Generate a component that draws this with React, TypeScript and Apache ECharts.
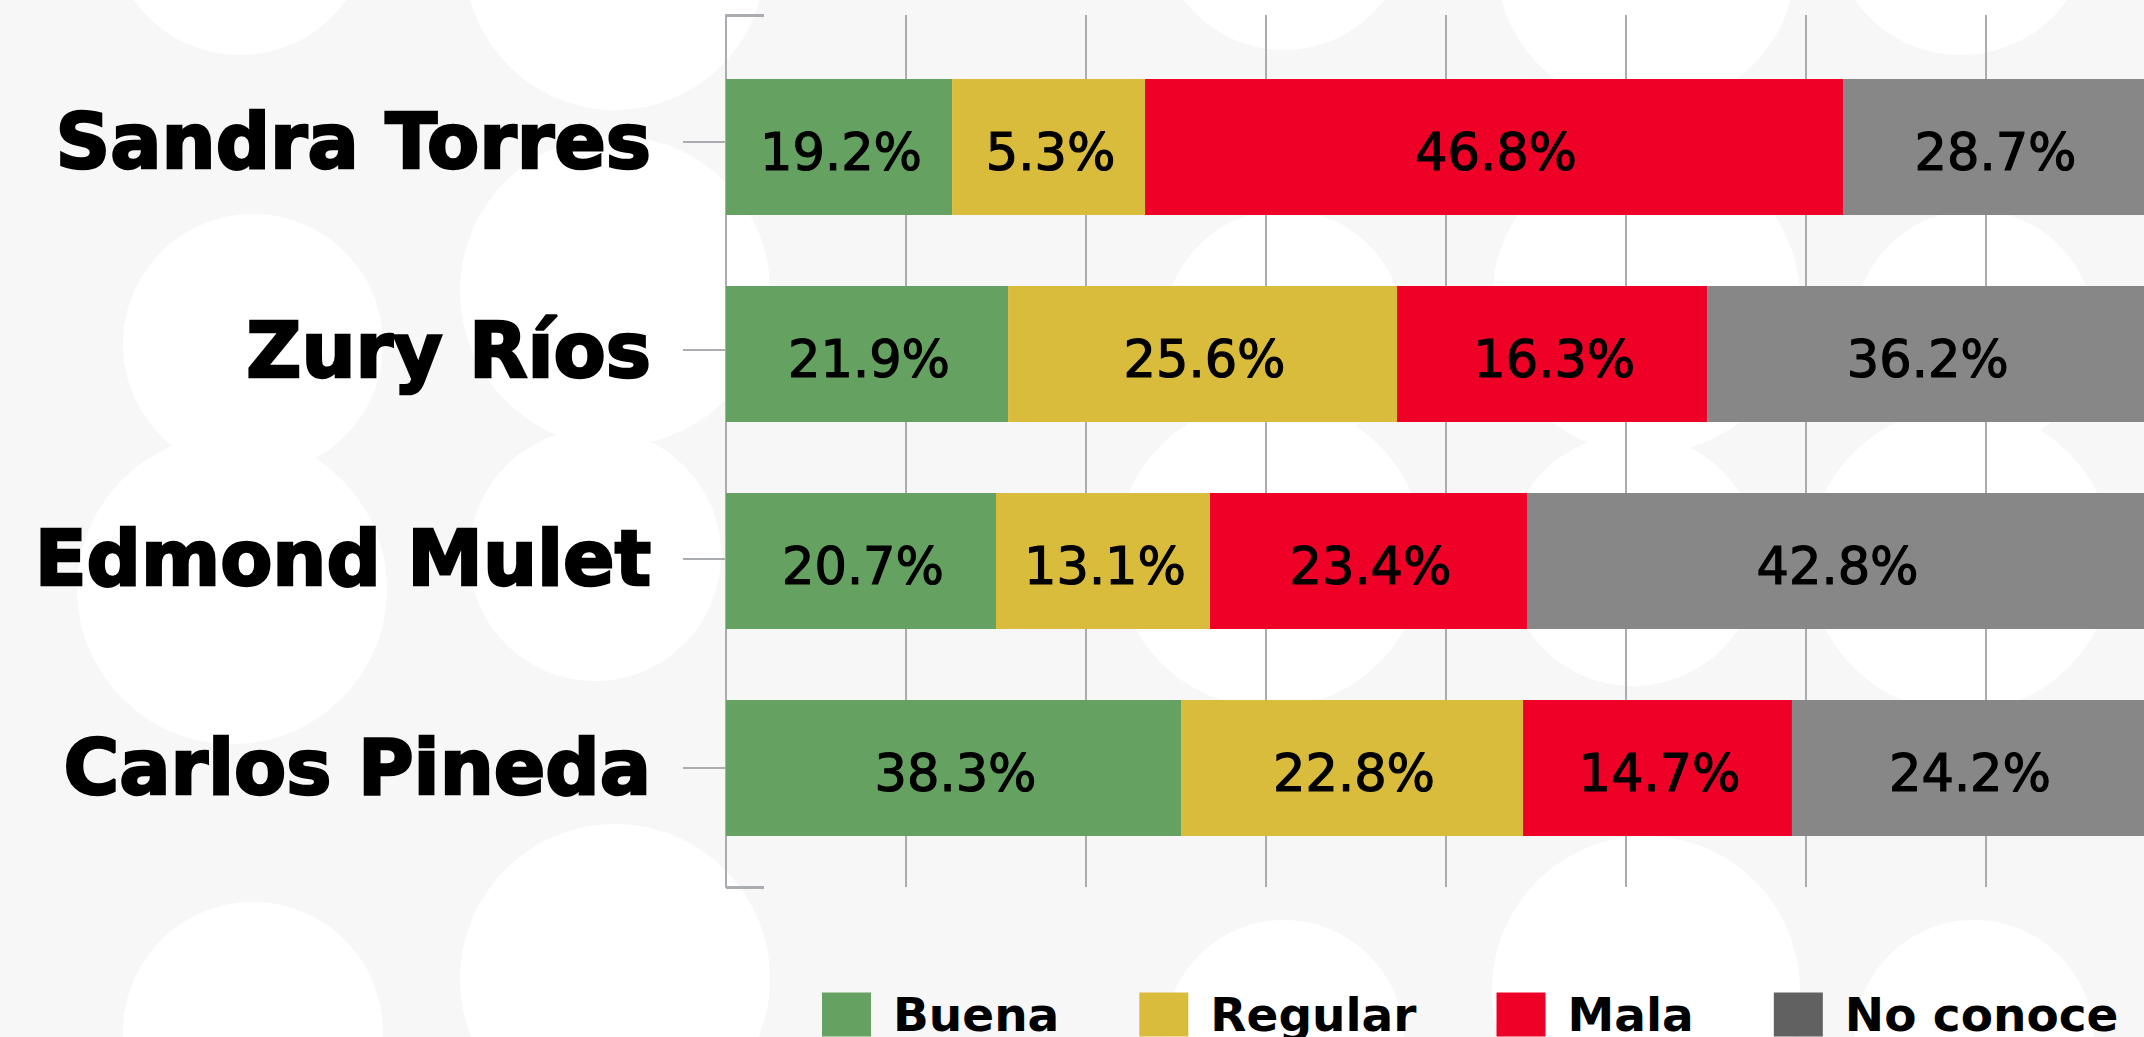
import React, { useEffect, useRef } from "react";
import * as echarts from "echarts";

// ---- data ----
const candidates = ["Sandra Torres", "Zury Ríos", "Edmond Mulet", "Carlos Pineda"];
const seriesNames = ["Buena", "Regular", "Mala", "No conoce"];
// bar lengths as drawn, in axis units (one grid step = 10)
const buenaLen = [12.56, 15.67, 15.0, 25.28];
const regularLen = [10.72, 21.61, 11.89, 19.0];
const malaLen = [38.78, 17.25, 17.61, 14.94];
const noConoceLen = [16.72, 24.25, 34.28, 19.56];
// printed percentages
const buenaPct = [19.2, 21.9, 20.7, 38.3];
const regularPct = [5.3, 25.6, 13.1, 22.8];
const malaPct = [46.8, 16.3, 23.4, 14.7];
const noConocePct = [28.7, 36.2, 42.8, 24.2];
const axisMin = 0;
const axisMax = 80;
const axisStep = 10;

const barColors = ["#65a161", "#d9bc3c", "#ee0027", "#878787"];
const legendColors = ["#65a161", "#d9bc3c", "#ee0027", "#616161"];

// decorative background circles [cx, cy, r]
const bgCircles = [
  [240, -75, 130], [615, -40, 150], [1284, -75, 125], [1646, -40, 150], [1961, -75, 130],
  [253, 344, 130], [615, 291, 155], [1284, 330, 120], [1646, 300, 154], [1974, 330, 120],
  [232, 589, 155], [595, 555, 126], [1270, 554, 154], [1633, 560, 126], [1961, 560, 152],
  [253, 1032, 130], [615, 979, 155], [1284, 1040, 120], [1646, 990, 154], [1974, 1040, 120],
];

export default function App() {
  const ref = useRef<HTMLDivElement>(null);
  useEffect(() => {
    if (!ref.current) return;
    const chart = echarts.init(ref.current, undefined, { renderer: "svg" });
    const lens = [buenaLen, regularLen, malaLen, noConoceLen];
    const pcts = [buenaPct, regularPct, malaPct, noConocePct];
    const gridColor = "#a9adb1";
    const hiddenX = (gridIndex: number) => ({
      gridIndex,
      type: "value",
      min: axisMin,
      max: axisMax,
      interval: axisStep,
      show: false,
      splitLine: { show: false },
    });
    chart.setOption({
      animation: false,
      backgroundColor: "#f7f7f7",
      graphic: bgCircles.map(([cx, cy, r]) => ({
        type: "circle",
        z: -10,
        silent: true,
        shape: { cx, cy, r },
        style: { fill: "#ffffff" },
      })),
      legend: {
        data: seriesNames.map((n, i) => ({ name: n, itemStyle: { color: legendColors[i] } })),
        left: 822,
        top: 991,
        padding: 0,
        itemWidth: 49,
        itemHeight: 44,
        itemGap: 80,
        icon: "rect",
        selectedMode: false,
        textStyle: {
          fontFamily: "DejaVu Sans",
          fontWeight: "bold",
          fontSize: 47,
          color: "#000",
          padding: [0, 0, 0, 17],
        },
      },
      grid: [
        { left: 726, width: 1440, top: 15, height: 872, outerBoundsMode: "none", containLabel: false },
        { left: 726, width: 1440, top: 43.5, height: 828, outerBoundsMode: "none", containLabel: false },
        { left: 726, width: 1440, top: 37, height: 835, outerBoundsMode: "none", containLabel: false },
      ],
      xAxis: [
        {
          gridIndex: 0,
          type: "value",
          min: axisMin,
          max: axisMax,
          interval: axisStep,
          axisLine: { show: false },
          axisTick: { show: false },
          axisLabel: { show: false },
          splitLine: { show: true, lineStyle: { color: gridColor, width: 2 } },
        },
        hiddenX(1),
        hiddenX(2),
      ],
      yAxis: [
        {
          gridIndex: 0,
          type: "category",
          data: [""],
          axisLine: { show: true, lineStyle: { color: gridColor, width: 2 } },
          axisTick: { show: true, inside: true, length: 38, lineStyle: { color: gridColor, width: 3 } },
          axisLabel: { show: false },
          splitLine: { show: false },
        },
        {
          gridIndex: 1,
          type: "category",
          data: candidates,
          inverse: true,
          show: false,
        },
        {
          gridIndex: 2,
          type: "category",
          data: candidates,
          inverse: true,
          offset: 5,
          axisLine: { show: false },
          axisTick: { show: true, alignWithLabel: true, length: 43, lineStyle: { color: gridColor, width: 2 } },
          axisLabel: {
            margin: 70,
            fontFamily: "DejaVu Sans",
            fontWeight: "bold",
            fontSize: 76,
            color: "#000",
            textBorderColor: "#000",
            textBorderWidth: 2.5,
          },
          splitLine: { show: false },
        },
      ],
      series: seriesNames.map((name, i) => ({
        name,
        type: "bar",
        stack: "total",
        xAxisIndex: 1,
        yAxisIndex: 1,
        barWidth: 136,
        itemStyle: { color: barColors[i] },
        label: {
          show: true,
          position: "inside",
          offset: [2, 5],
          fontFamily: "DejaVu Sans",
          fontSize: 51,
          color: "#000",
          textBorderColor: "#000",
          textBorderWidth: 1.2,
          formatter: (p: any) => pcts[i][p.dataIndex].toFixed(1) + "%",
        },
        data: lens[i],
      })),
    });
    return () => chart.dispose();
  }, []);
  return (
    <div
      ref={ref}
      style={{ position: "fixed", left: 0, top: 0, width: 2144, height: 1037 }}
    />
  );
}
